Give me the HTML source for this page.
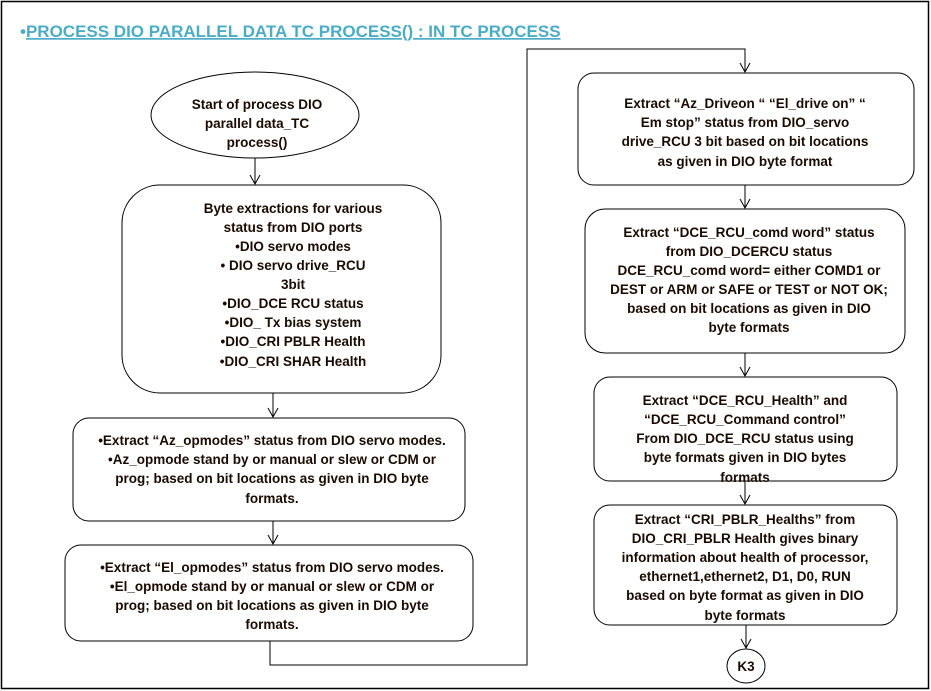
<!DOCTYPE html>
<html><head><meta charset="utf-8"><style>
html,body{margin:0;padding:0;background:#fff;}
svg{display:block;}
text{font-family:"Liberation Sans",sans-serif;font-weight:bold;font-size:13.5px;fill:#1a0a00;text-anchor:middle;}
</style></head><body>
<svg width="931" height="691" viewBox="0 0 931 691" xmlns="http://www.w3.org/2000/svg">
<defs><marker id="a" markerWidth="12" markerHeight="12" refX="10" refY="6" orient="auto" markerUnits="userSpaceOnUse"><path d="M1,1 L10,6 L1,11" fill="none" stroke="#000" stroke-width="1"/></marker></defs>
<rect x="1.5" y="1.5" width="927" height="687" fill="#fff" stroke="#000" stroke-width="1.5"/>
<text x="20" y="37" style="text-anchor:start;font-size:17px;fill:#4bacc6">•<tspan text-decoration="underline">PROCESS DIO PARALLEL DATA  TC PROCESS() : IN TC PROCESS</tspan></text>
<g fill="none" stroke="#000" stroke-width="1">
<ellipse cx="255" cy="115" rx="104" ry="43"/>
<rect x="122" y="185" width="319" height="208" rx="38"/>
<rect x="73" y="418" width="392" height="103" rx="16"/>
<rect x="65" y="545" width="408" height="96" rx="16"/>
<rect x="578" y="73" width="336" height="112" rx="16"/>
<rect x="585" y="209" width="320" height="144" rx="20"/>
<rect x="594" y="377" width="303" height="104" rx="16"/>
<rect x="594" y="505" width="303" height="120" rx="16"/>
<ellipse cx="746" cy="666" rx="19" ry="17"/>
<line x1="255" y1="158" x2="255" y2="184" marker-end="url(#a)"/>
<line x1="273" y1="393" x2="273" y2="417" marker-end="url(#a)"/>
<line x1="273" y1="521" x2="273" y2="544" marker-end="url(#a)"/>
<polyline points="270,641 270,665 527,665 527,49 745,49 745,72" marker-end="url(#a)"/>
<line x1="745" y1="185" x2="745" y2="208" marker-end="url(#a)"/>
<line x1="745" y1="353" x2="745" y2="376" marker-end="url(#a)"/>
<line x1="745" y1="481" x2="745" y2="504" marker-end="url(#a)"/>
<line x1="746" y1="625" x2="746" y2="648" marker-end="url(#a)"/>
</g>
<text x="257" y="109">Start of process DIO</text>
<text x="257" y="128">parallel data_TC</text>
<text x="257" y="147">process()</text>
<g>
<text x="293" y="213">Byte extractions for various</text>
<text x="293" y="232">status from DIO ports</text>
<text x="293" y="251">•DIO servo modes</text>
<text x="293" y="270">•  DIO servo drive_RCU</text>
<text x="293" y="289">3bit</text>
<text x="293" y="308">•DIO_DCE RCU status</text>
<text x="293" y="327">•DIO_ Tx bias system</text>
<text x="293" y="346">•DIO_CRI PBLR  Health</text>
<text x="293" y="366">•DIO_CRI SHAR Health</text>
</g>
<text x="272" y="445">•Extract “Az_opmodes” status from DIO servo modes.</text>
<text x="272" y="464">•Az_opmode stand by or manual or slew or CDM or</text>
<text x="272" y="483">prog; based on bit  locations as given in DIO byte</text>
<text x="272" y="503">formats.</text>
<text x="272" y="572">•Extract “El_opmodes” status from DIO servo modes.</text>
<text x="272" y="591">•El_opmode stand by or manual or slew or CDM or</text>
<text x="272" y="610">prog; based on bit locations as given in DIO byte</text>
<text x="272" y="629">formats.</text>
<text x="745" y="108">Extract “Az_Driveon “ “El_drive on” “</text>
<text x="745" y="127">Em stop” status from DIO_servo</text>
<text x="745" y="146">drive_RCU 3 bit based on bit locations</text>
<text x="745" y="166">as given in DIO byte format</text>
<text x="749" y="237">Extract “DCE_RCU_comd word” status</text>
<text x="749" y="256">from  DIO_DCERCU status</text>
<text x="749" y="275">DCE_RCU_comd word= either COMD1 or</text>
<text x="749" y="294">DEST or ARM or SAFE or TEST or NOT OK;</text>
<text x="749" y="313">based on bit locations as given in DIO</text>
<text x="749" y="332">byte formats</text>
<text x="745" y="405">Extract “DCE_RCU_Health” and</text>
<text x="745" y="424">“DCE_RCU_Command control”</text>
<text x="745" y="443">From DIO_DCE_RCU status  using</text>
<text x="745" y="462">byte formats given in DIO bytes</text>
<text x="745" y="482">formats</text>
<text x="745" y="524">Extract “CRI_PBLR_Healths” from</text>
<text x="745" y="543">DIO_CRI_PBLR Health gives binary</text>
<text x="745" y="562">information about health of processor,</text>
<text x="745" y="581">ethernet1,ethernet2, D1, D0, RUN</text>
<text x="745" y="600">based on byte format as given in DIO</text>
<text x="745" y="620">byte formats</text>
<text x="746" y="671">K3</text>
</svg>
</body></html>
